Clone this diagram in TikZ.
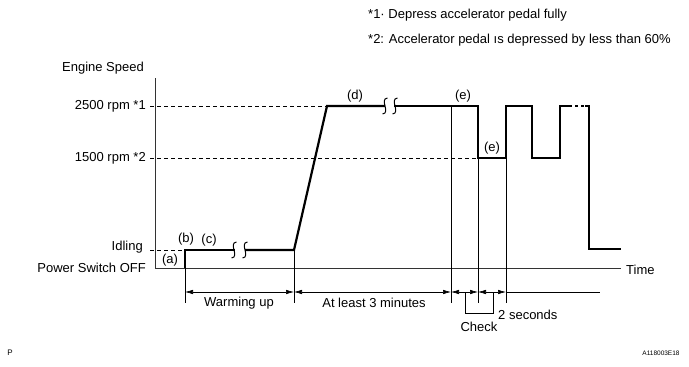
\documentclass[tikz,border=0pt]{standalone}
\usepackage{fontspec}
\setmainfont{Liberation Sans}
\usetikzlibrary{arrows.meta}
\begin{document}
\begin{tikzpicture}[x=1pt,y=-1pt,
  lbl/.style={font=\fontsize{13}{15}\selectfont, inner sep=0pt},
  small/.style={font=\fontsize{6.5}{8}\selectfont, inner sep=0pt},
  sig/.style={line width=2.2pt, line join=miter, line cap=butt},
  thin/.style={line width=0.6pt},
  axis/.style={line width=0.8pt, black!80},
  lvl/.style={line width=0.7pt, dash pattern=on 4pt off 3pt},
  brk/.style={line width=1pt},
  dim/.style={line width=0.6pt, {Latex[length=8pt,width=4.5pt]}-{Latex[length=8pt,width=4.5pt]}}]
\useasboundingbox (0,0) rectangle (689,367);
% key coordinates
\coordinate (o) at (155,268);
\coordinate (ytop) at (155,78);
\coordinate (xend) at (621,268);
\coordinate (b0) at (185,268);
\coordinate (b1) at (185,250);
\coordinate (c1) at (235,250);
\coordinate (c2) at (245,250);
\coordinate (r0) at (294,250);
\coordinate (r1) at (327,106);
\coordinate (d1) at (385,106);
\coordinate (d2) at (394,106);
\coordinate (e0) at (478,106);
\coordinate (e1) at (478,158);
\coordinate (e2) at (506,158);
\coordinate (e3) at (506,106);
\coordinate (f0) at (532,106);
\coordinate (f1) at (532,158);
\coordinate (f2) at (560,158);
\coordinate (f3) at (560,106);
\coordinate (g0) at (569,106);
\coordinate (g1) at (585,106);
\coordinate (g2) at (589,106);
\coordinate (g3) at (589,249);
\coordinate (g4) at (621,249);
\coordinate (v4) at (451,106);
% axes
\draw[axis] (ytop) -- (o) -- (xend);
% level dashed lines
\coordinate (l1) at (150,106);
\coordinate (l2) at (150,158);
\coordinate (l3) at (150,250);
\draw[lvl] (l1) -- (r1);
\draw[lvl] (l2) -- (e1);
\draw[lvl] (l3) -- (b1);
% thin verticals
\coordinate (t1) at (185,303);
\coordinate (t2) at (294,303);
\coordinate (t3) at (451,303);
\coordinate (t4) at (478,303);
\coordinate (t5) at (506,303);
\draw[thin] (b0) -- (t1);
\draw[thin] (r0) -- (t2);
\draw[thin] (v4) -- (t3);
\draw[thin] (e1) -- (t4);
\draw[thin] (e2) -- (t5);
% signal
\draw[sig] (b0) -- (b1) -- (c1);
\draw[sig] (c2) -- (r0) -- (r1) -- (d1);
\draw[sig] (d2) -- (e0) -- (e1) -- (e2) -- (e3) -- (f0) -- (f1) -- (f2) -- (f3) -- (g0);
\draw[sig, dash pattern=on 3pt off 3pt] (g0) -- (g1);
\draw[sig] (g1) -- (g2) -- (g3) -- (g4);
% break symbols
\foreach \cx/\cy in {234/250, 245/250, 385/106, 395/106}{
  \draw[brk] (\cx+2.5,\cy-8) .. controls (\cx-6,\cy-7) and (\cx+6,\cy+7) .. (\cx-2.5,\cy+8);
}
% dimension arrows
\coordinate (a1) at (185,292);
\coordinate (a2) at (294,292);
\coordinate (a3) at (451,292);
\coordinate (a4) at (478,292);
\coordinate (a5) at (506,292);
\coordinate (a6) at (600,292);
\draw[dim] (a1) -- (a2);
\draw[dim] (a2) -- (a3);
\draw[dim] (a3) -- (a4);
\draw[dim] (a4) -- (a5);
\draw[thin] (a5) -- (a6);
% check bracket
\coordinate (k1) at (465,293);
\coordinate (k2) at (465,313);
\coordinate (k3) at (493,313);
\coordinate (k4) at (493,293);
\draw[thin] (k1) -- (k2) -- (k3) -- (k4);
% labels
\node[lbl] (es) at (103,68) {Engine Speed};
\node[lbl, anchor=east] (r25) at (146,106) {2500 rpm *1};
\node[lbl, anchor=east] (r15) at (146,158) {1500 rpm *2};
\node[lbl, anchor=east] (idl) at (143,247) {Idling};
\node[lbl, anchor=east] (psw) at (146,268) {Power Switch OFF};
\node[lbl] (la) at (170,260) {(a)};
\node[lbl] (lb) at (186,239) {(b)};
\node[lbl] (lc) at (209,240) {(c)};
\node[lbl] (ld) at (355,96) {(d)};
\node[lbl] (le1) at (463,96) {(e)};
\node[lbl] (le2) at (492,148) {(e)};
\node[lbl, anchor=west] (tm) at (626,270) {Time};
\node[lbl] (wu) at (239,303) {Warming up};
\node[lbl] (al) at (374,303) {At least 3 minutes};
\node[lbl] (ck) at (479,327) {Check};
\node[lbl, anchor=west] (ts) at (498,315) {2 seconds};
\node[lbl, anchor=west] (n1) at (368,15) {*1· Depress accelerator pedal fully};
\node[lbl, anchor=west] (n2) at (368,40) {*2: Accelerator pedal ıs depressed by less than 60\%};
\node[font=\fontsize{8}{9}\selectfont, inner sep=0pt] (pp) at (10,353) {P};
\node[small] (code) at (661,353) {A118003E18};
\end{tikzpicture}
\end{document}
